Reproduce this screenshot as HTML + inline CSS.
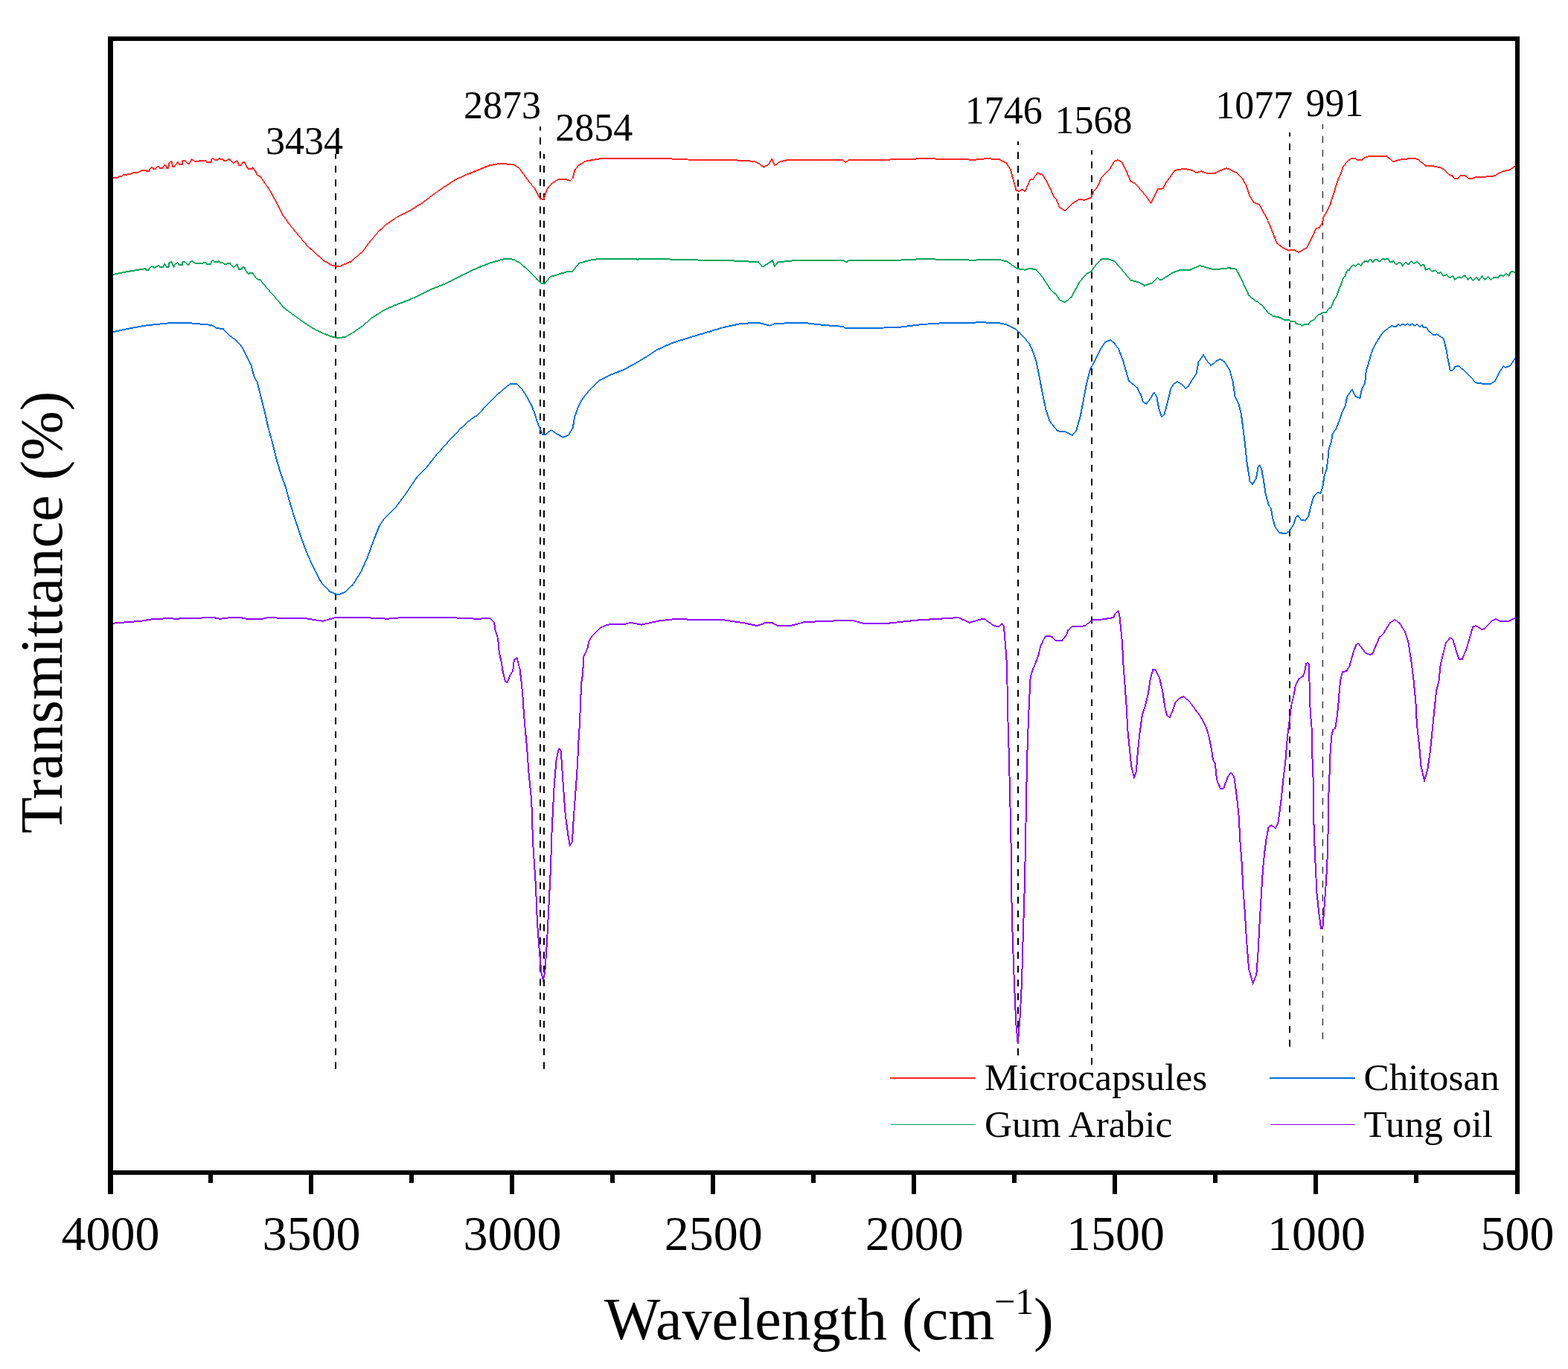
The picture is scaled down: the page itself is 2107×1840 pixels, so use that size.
<!DOCTYPE html><html><head><meta charset="utf-8"><title>FTIR spectra</title><style>html,body{margin:0;padding:0;background:#fff;}svg{display:block;}text{font-family:"Liberation Serif","Times New Roman",serif;fill:#000;}</style></head><body><svg width="2107" height="1840" viewBox="0 0 2107 1840"><rect x="0" y="0" width="2107" height="1840" fill="#fff"/><line x1="451.0" y1="1436.8" x2="451.0" y2="207.0" stroke="#000" stroke-width="2.0" stroke-dasharray="9.3 9.235"/><line x1="726.0" y1="1398.9" x2="726.0" y2="170.0" stroke="#000" stroke-width="2.0" stroke-dasharray="9.3 9.235"/><line x1="731.0" y1="1436.8" x2="731.0" y2="207.0" stroke="#000" stroke-width="2.0" stroke-dasharray="9.3 9.235"/><line x1="1368.0" y1="1418.4" x2="1368.0" y2="190.0" stroke="#000" stroke-width="2.0" stroke-dasharray="9.3 9.235"/><line x1="1467.0" y1="1431.0" x2="1467.0" y2="202.1" stroke="#000" stroke-width="2.0" stroke-dasharray="9.3 9.235"/><line x1="1733.0" y1="1406.8" x2="1733.0" y2="178.0" stroke="#000" stroke-width="2.0" stroke-dasharray="9.3 9.235"/><line x1="1777.5" y1="1396.8" x2="1777.5" y2="167.0" stroke="#000" stroke-width="1.0" stroke-dasharray="9.3 9.235"/><g fill="none" stroke="#ff2626" stroke-linecap="round" shape-rendering="crispEdges"><path stroke-width="1.4" d="M259.3,214.6L261.5,216.8M310.5,215.6L314.2,219.2M766.0,243.0L769.8,239.2M1431.1,283.0L1439.7,274.4M1469.4,257.2L1474.0,252.5M1480.3,238.4L1485.0,233.8M1662.5,232.8L1668.8,239.0M1959.3,239.7L1962.6,236.3"/><path stroke-width="1.5" d="M163.2,236.9L165.5,234.9M201.5,227.3L203.8,224.8L206.0,226.8M209.3,226.8L211.1,224.6M213.3,223.9L215.1,225.8M227.2,219.6L229.0,217.4M248.4,215.6L252.4,220.0M276.1,215.4L278.3,218.0M286.4,212.7L288.6,215.2M292.2,214.9L294.8,212.5L296.6,214.5M304.3,216.3L306.8,213.6M389.0,301.7L400.0,315.0L412.5,329.8L423.4,340.0L436.0,351.0M471.2,351.7L486.9,338.4M496.2,326.0L508.8,311.0L518.0,302.5M711.9,245.5L718.0,252.5M1485.0,233.8L1492.0,226.0M1525.6,247.0L1533.4,255.6M1821.3,212.7L1823.9,215.1M1864.0,210.2L1871.9,217.5M1940.3,227.4L1947.0,234.7M1951.4,236.3L1954.8,240.0"/><path stroke-width="1.6" d="M218.4,225.8L221.3,221.7M234.1,223.9L238.9,217.8M314.2,219.2L318.5,215.8M339.7,225.1L343.4,230.2M350.0,237.7L362.5,255.6M379.7,288.4L389.0,301.7M486.9,338.4L496.2,326.0M518.0,302.5L533.8,291.6M565.0,274.4L580.6,262.7L596.2,251.7M697.8,226.0L705.6,236.9L711.9,245.5M735.3,254.0L741.0,247.0L748.8,241.6M772.2,229.0L776.9,222.8M1020.6,220.5L1026.2,224.7M1041.1,222.3L1048.1,217.3M1132.5,215.3L1136.4,218.1L1140.3,215.3M1388.1,240.8L1394.4,232.2M1416.2,264.2L1419.4,268.1M1533.4,255.6L1539.7,263.4L1546.7,272.8M1567.8,243.9L1578.8,229.0M1715.6,326.6L1723.4,332.8M1804.5,224.8L1809.9,217.4L1815.2,213.4M1904.6,213.7L1915.7,222.6M1968.2,235.8L1973.8,239.7M2028.5,228.5L2035.7,223.5"/><path stroke-width="1.7" d="M157.3,238.8L158.8,237.8M238.9,217.8L241.1,221.1M254.2,220.0L257.5,214.5M284.5,213.8L286.4,212.7M323.7,222.4L326.6,217.8M345.3,235.0L350.0,237.7M549.4,283.8L565.0,274.4M596.2,251.7L611.9,241.6M690.0,221.0L697.8,226.0M776.9,222.8L786.2,216.9M1014.4,216.9L1020.6,220.5M1032.5,221.2L1037.2,213.8M1352.2,218.9L1357.7,227.5M1373.3,254.8L1377.5,257.2M1401.4,235.3L1406.9,244.7M1424.0,279.0L1431.1,283.0M1439.7,274.4L1450.6,267.7M1492.0,226.0L1497.5,216.6M1502.2,215.0L1507.7,218.1M1602.2,229.0L1607.8,232.5M1668.8,239.0L1675.0,250.0M1678.9,262.5L1684.4,271.9M1745.3,339.0L1756.2,332.8M1773.1,305.8L1777.1,299.1M1778.8,291.0L1783.1,284.3M1830.0,214.7L1835.0,211.4M2008.4,236.3L2014.0,233.0"/><path stroke-width="1.8" d="M174.3,234.3L179.2,232.0M185.1,231.7L191.5,228.9M196.2,228.9L196.8,230.2M200.3,230.2L201.5,227.3M221.3,221.7L223.1,222.5M266.6,216.8L268.5,215.8M274.0,216.3L276.1,215.4M299.5,213.9L300.6,216.3M306.8,213.6L310.5,215.6M328.4,218.0L333.5,227.3M338.6,227.3L339.7,225.1M362.5,255.6L371.9,272.8L379.7,288.4M436.0,351.0L446.9,356.9M455.6,358.4L471.2,351.7M533.8,291.6L549.4,283.8M611.9,241.6L627.5,234.5M718.0,252.5L726.0,267.3M1026.2,224.7L1032.5,221.2M1037.2,213.8L1041.1,222.3M1342.8,214.2L1352.2,218.9M1369.4,256.9L1373.3,254.8M1377.5,257.2L1384.2,241.6M1394.4,232.2L1401.4,235.3M1406.9,244.7L1416.2,264.2M1419.4,268.1L1424.0,279.0M1474.0,252.5L1480.3,238.4M1507.7,218.1L1513.1,229.0L1519.4,243.9L1525.6,247.0M1546.7,272.8L1551.4,263.4L1556.1,254.0M1563.1,253.3L1567.8,243.9M1632.8,232.8L1640.6,228.9M1648.4,226.1L1654.7,228.9L1662.5,232.8M1692.2,275.0L1701.6,292.2L1707.8,306.2M1723.4,332.8L1731.2,336.7M1737.5,335.6L1745.3,339.0M1756.2,332.8L1763.7,317.8L1768.4,307.1M1783.1,284.3L1787.1,276.3M1798.5,240.2L1801.9,233.5M1935.8,225.5L1940.3,227.4M2014.0,233.0L2020.7,229.9"/><path stroke-width="1.9" d="M211.1,224.6L213.3,223.9M223.1,222.5L224.2,226.0M229.0,217.4L230.5,216.8L232.3,223.9M245.4,216.3L248.4,215.6M283.5,218.0L284.5,213.8M318.5,215.8L321.1,222.2M343.4,230.2L345.3,235.0M627.5,234.5L643.0,228.3L658.8,222.0M730.6,267.8L735.3,254.0M759.7,240.8L766.0,243.0M769.8,239.2L772.2,229.0M1357.7,227.5L1361.6,241.6L1365.5,255.6L1369.4,256.9M1456.9,268.9L1466.2,265.8L1469.4,257.2M1497.5,216.6L1502.2,215.0M1607.8,232.5L1614.0,230.0L1620.3,232.5M1640.6,228.9L1648.4,226.1M1675.0,250.0L1678.9,262.5M1684.4,271.9L1692.2,275.0M1707.8,306.2L1715.6,326.6M1768.4,307.1L1773.1,305.8M1787.1,276.3L1789.8,266.9L1792.5,258.9L1795.8,248.2L1798.5,240.2M1801.9,233.5L1804.5,224.8M1835.0,211.4L1839.0,210.2M1871.9,217.5L1879.7,214.8M1924.7,222.9L1935.8,225.5M1947.0,234.7L1951.4,236.3M1978.2,239.7L1984.9,237.8"/><path stroke-width="2.0" d="M152.0,239.0L157.3,238.8M158.8,237.8L163.2,236.9M165.5,234.9L174.3,234.3M179.2,232.0L185.1,231.7M191.5,228.9L196.2,228.9M196.8,230.2L200.3,230.2M206.0,226.8L209.3,226.8M215.1,225.8L218.4,225.8M224.2,226.0L226.1,226.0L227.2,219.6M232.3,223.9L234.1,223.9M241.1,221.1L244.7,221.1L245.4,216.3M252.4,220.0L254.2,220.0M257.5,214.5L259.3,214.6M261.5,216.8L266.6,216.8M268.5,215.8L274.0,216.3M278.3,218.0L283.5,218.0M288.6,215.2L292.2,214.9M296.6,214.5L299.5,213.9M300.6,216.3L304.3,216.3M321.1,222.2L323.7,222.4M326.6,217.8L328.4,218.0M333.5,227.3L338.6,227.3M446.9,356.9L455.6,358.4M658.8,222.0L671.2,220.0L690.0,221.0M726.0,267.3L730.6,267.8M748.8,241.6L759.7,240.8M786.2,216.9L800.3,214.2L808.0,213.0L900.3,213.4L923.8,214.5L948.8,215.0L991.0,215.5L1014.4,216.9M1048.1,217.3L1057.5,215.3L1132.5,215.3M1140.3,215.3L1218.4,214.2L1238.8,213.1L1310.0,214.7L1325.6,213.1L1342.8,214.2M1384.2,241.6L1388.1,240.8M1450.6,267.7L1456.9,268.9M1556.1,254.0L1563.1,253.3M1578.8,229.0L1591.2,226.7L1602.2,229.0M1620.3,232.5L1632.8,232.8M1731.2,336.7L1737.5,335.6M1777.1,299.1L1778.8,291.0M1815.2,213.4L1821.3,212.7M1823.9,215.1L1830.0,214.7M1839.0,210.2L1864.0,210.2M1879.7,214.8L1896.7,212.9L1904.6,213.7M1915.7,222.6L1924.7,222.9M1954.8,240.0L1959.3,239.7M1962.6,236.3L1968.2,235.8M1973.8,239.7L1978.2,239.7M1984.9,237.8L2001.7,237.4L2008.4,236.3M2020.7,229.9L2028.5,228.5"/></g><g fill="none" stroke="#00a55a" stroke-linecap="round" shape-rendering="crispEdges"><path stroke-width="1.4" d="M248.0,351.7L252.4,355.9M304.6,355.0L306.1,353.5M856.6,349.5L858.0,348.1M1547.5,380.6L1555.3,373.1M1732.3,430.1L1734.3,432.0M1765.0,430.1L1771.9,423.0M1804.9,374.0L1807.8,371.1M1821.4,358.1L1824.9,354.5M1850.2,348.9L1852.4,351.1M1854.3,350.8L1857.5,347.7M1889.2,352.5L1891.6,355.0M1896.5,350.8L1900.0,354.2M1972.7,375.9L1976.0,372.5M1979.3,377.0L1983.8,372.5"/><path stroke-width="1.5" d="M199.4,362.8L203.4,357.9M213.3,356.8L215.1,358.9M258.6,350.8L260.8,353.2M286.4,349.9L288.2,352.1M299.9,353.5L301.7,355.0M308.7,353.7L313.8,359.2M330.6,364.5L333.5,367.6M341.9,370.6L345.0,374.4M350.0,376.7L362.5,391.6L375.0,405.6M486.9,438.4L499.4,427.5M699.4,354.0L711.9,365.0L721.2,375.2L727.5,380.6M769.0,364.7L778.4,353.8M855.0,348.1L856.6,349.5M1019.0,352.2L1023.8,357.7M1392.8,362.7L1400.6,372.0M1411.6,389.2L1419.4,396.2M1450.6,379.0L1460.0,368.0M1472.5,356.4L1479.5,348.6M1497.5,351.0L1508.4,363.4L1519.4,376.7M1678.1,396.9L1687.5,404.7M1690.0,405.6L1696.8,411.4M1746.6,435.6L1749.4,438.0M1830.7,354.0L1834.1,351.1M1870.7,352.2L1872.4,350.6M1877.0,355.0L1879.9,352.5M1884.8,357.2L1889.2,352.5M1904.0,351.6L1909.0,356.9M1920.7,360.8L1924.1,364.7M1928.6,363.2L1932.5,367.5M1944.2,369.2L1948.1,373.6M1995.0,375.9L1999.4,372.0L2003.9,375.9L2007.3,373.0M2012.8,373.0L2016.2,370.0M2020.7,370.8L2024.0,367.7L2027.4,370.8"/><path stroke-width="1.6" d="M195.0,361.2L197.2,362.8M221.0,354.6L223.1,357.5M234.8,355.7L238.5,352.8L240.7,355.9M253.5,355.9L256.4,351.7M276.1,352.3L278.3,355.0M293.3,352.1L294.4,350.6M313.8,359.2L318.5,355.4M324.4,361.8L326.6,358.6M339.4,367.0L341.9,370.6M375.0,405.6L381.2,413.4L393.8,422.8L407.8,433.0M474.4,447.0L486.9,438.4M732.2,381.0L739.4,372.0M1041.1,358.0L1045.0,352.5M1353.8,351.7L1367.0,361.1M1431.1,406.4L1439.7,399.4M1466.2,365.0L1472.5,356.4M1555.3,373.1L1560.0,376.7M1696.8,411.4L1703.6,419.9L1710.5,424.7M1758.2,435.9L1761.0,432.0M1815.6,358.4L1818.8,356.0L1821.4,358.1M1826.3,355.0L1829.0,357.2M1838.5,351.8L1840.9,348.6M1861.4,349.1L1863.4,347.6M1872.4,350.6L1875.5,355.0M1893.6,354.7L1896.5,350.8M1935.8,366.0L1939.2,370.8M1963.7,373.6L1968.2,370.0L1972.7,375.9M1976.0,372.5L1979.3,377.0M1983.8,372.5L1987.2,377.0L1991.6,371.4L1995.0,375.9"/><path stroke-width="1.7" d="M205.2,358.6L207.4,360.1L209.6,358.6M223.1,357.5L224.2,359.2M227.5,353.5L230.5,351.7M274.7,353.2L276.1,352.3M294.4,350.6L295.9,353.2M326.6,358.6L328.8,360.1M407.8,433.0L423.4,443.0M463.4,453.3L474.4,447.0M499.4,427.5L515.0,417.3M690.0,348.6L699.4,354.0M1026.2,358.0L1038.0,350.2M1400.6,372.0L1411.6,389.2M1419.4,396.2L1424.0,403.3M1560.0,376.7L1575.6,366.6M1720.7,427.0L1725.5,430.0M1739.8,432.2L1741.8,435.4M1782.1,419.9L1785.5,414.9L1789.0,412.7M1792.3,403.9L1796.4,397.7M1808.8,366.7L1810.7,363.3M1845.6,351.8L1847.5,348.9M1859.5,347.8L1861.4,349.1M1882.4,353.5L1884.8,357.2M1900.0,354.2L1904.0,351.6M1948.1,373.6L1952.6,370.8M1954.8,375.9L1960.4,372.2M2033.0,364.7L2035.7,366.2"/><path stroke-width="1.8" d="M209.6,358.6L213.3,356.8M219.1,358.9L221.0,354.6M233.4,358.9L234.8,355.7M345.0,374.4L350.0,376.7M423.4,443.0L437.5,449.4M515.0,417.3L530.6,410.3M549.4,403.3L565.0,396.2L580.6,388.4M596.2,382.2L611.9,374.4L627.5,366.6L643.0,359.5M1132.5,349.7L1137.2,352.2L1141.9,349.7M1424.0,403.3L1431.1,406.4M1439.7,399.4L1450.6,379.0M1460.0,368.0L1466.2,365.0M1528.8,379.0L1538.1,383.8M1599.0,362.7L1612.5,357.0M1661.0,361.7L1668.8,376.6L1678.1,396.9M1749.4,438.0L1753.5,435.9M1761.0,432.0L1765.0,430.1M1771.9,423.0L1778.7,419.9M1799.2,388.9L1801.5,384.2M1813.2,363.0L1815.6,358.4M1829.0,357.2L1830.7,354.0M1842.4,348.9L1844.1,352.1M1865.3,347.7L1867.5,352.1M1932.5,367.5L1935.8,366.0M1952.6,370.8L1954.8,375.9M1960.4,372.2L1963.7,373.6M2027.4,370.8L2030.1,365.3"/><path stroke-width="1.9" d="M203.4,357.9L205.2,358.6M230.5,351.7L233.4,358.9M245.4,352.4L248.0,351.7M256.4,351.7L258.6,350.8M260.8,353.2L263.7,353.9M283.1,355.0L284.5,350.6L286.4,349.9M318.5,355.4L321.1,361.8M328.8,360.1L330.6,364.5M437.5,449.4L448.4,453.3M530.6,410.3L549.4,403.3M580.6,388.4L596.2,382.2M643.0,359.5L658.8,353.3L677.5,348.1M739.4,372.0L750.3,368.9L761.2,365.3M778.4,353.8L792.5,349.7M1038.0,350.2L1041.1,358.0M1343.6,349.0L1353.8,351.7M1377.2,362.7L1383.4,360.6M1488.1,347.8L1497.5,351.0M1519.4,376.7L1528.8,379.0M1538.1,383.8L1547.5,380.6M1575.6,366.6L1585.0,363.1M1612.5,357.0L1631.2,362.5M1687.5,404.7L1690.0,405.6M1789.0,412.7L1792.3,403.9M1796.4,397.7L1799.2,388.9M1801.5,384.2L1803.4,377.9L1804.9,374.0M1824.9,354.5L1826.3,355.0M1879.9,352.5L1882.4,353.5M1913.5,356.1L1915.7,362.5L1920.7,360.8M1924.1,364.7L1928.6,363.2M1939.2,370.8L1944.2,369.2"/><path stroke-width="2.0" d="M151.6,368.9L173.4,364.7L195.0,361.2M197.2,362.8L199.4,362.8M215.1,358.9L219.1,358.9M224.2,359.2L226.4,359.2L227.5,353.5M240.7,355.9L244.7,355.9L245.4,352.4M252.4,355.9L253.5,355.9M263.7,353.9L265.9,353.5L270.3,353.9L274.7,353.2M278.3,355.0L283.1,355.0M288.2,352.1L293.3,352.1M295.9,353.2L299.9,353.5M301.7,355.0L304.6,355.0M306.1,353.5L308.7,353.7M321.1,361.8L324.4,361.8M333.5,367.6L339.4,367.0M448.4,453.3L452.5,454.0L463.4,453.3M677.5,348.1L690.0,348.6M727.5,380.6L732.2,381.0M761.2,365.3L769.0,364.7M792.5,349.7L803.4,348.1L855.0,348.1M858.0,348.1L909.7,348.6L944.0,349.7L986.2,350.5L1019.0,352.2M1023.8,357.7L1026.2,358.0M1045.0,352.5L1066.9,350.2L1132.5,349.7M1141.9,349.7L1207.5,349.7L1238.8,348.1L1310.0,349.7L1324.0,348.6L1343.6,349.0M1367.0,361.1L1377.2,362.7M1383.4,360.6L1392.8,362.7M1479.5,348.6L1488.1,347.8M1585.0,363.1L1599.0,362.7M1631.2,362.5L1651.6,360.2L1661.0,361.7M1710.5,424.7L1720.7,427.0M1725.5,430.0L1732.3,430.1M1734.3,432.0L1739.8,432.2M1741.8,435.4L1746.6,435.6M1753.5,435.9L1758.2,435.9M1778.7,419.9L1782.1,419.9M1807.8,371.1L1808.8,366.7M1810.7,363.3L1813.2,363.0M1834.1,351.1L1838.5,351.8M1840.9,348.6L1842.4,348.9M1844.1,352.1L1845.6,351.8M1847.5,348.9L1850.2,348.9M1852.4,351.1L1854.3,350.8M1857.5,347.7L1859.5,347.8M1863.4,347.6L1865.3,347.7M1867.5,352.1L1870.7,352.2M1875.5,355.0L1877.0,355.0M1891.6,355.0L1893.6,354.7M1909.0,356.9L1913.5,356.1M2007.3,373.0L2012.8,373.0M2016.2,370.0L2020.7,370.8M2030.1,365.3L2033.0,364.7"/></g><g fill="none" stroke="#006ee0" stroke-linecap="round" shape-rendering="crispEdges"><path stroke-width="1.4" d="M300.0,442.3L308.9,451.2M516.5,696.8L532.1,681.2M604.6,591.0L619.2,575.7M651.4,547.2L663.1,535.5M794.7,521.6L804.9,511.4M1967.1,497.6L1976.7,507.2"/><path stroke-width="1.5" d="M317.9,458.0L325.7,466.9M431.7,782.7L442.9,795.0M463.0,796.1L474.1,786.0M558.9,643.2L574.5,626.5M587.9,609.7L604.6,591.0M619.2,575.7L633.9,562.5M642.6,557.4L651.4,547.2M663.1,535.5L674.8,524.5M693.8,515.8L701.1,522.3M785.9,531.8L794.7,521.6M1364.7,442.3L1370.0,447.0L1377.3,455.1L1383.2,461.7M1416.8,574.2L1421.2,579.4M1440.9,585.2L1446.0,579.4M1523.5,517.2L1527.9,520.9M1540.3,542.8L1544.7,537.7M1560.8,560.4L1564.4,557.4M1587.8,516.5L1593.0,522.0M1621.5,484.3L1627.3,491.3L1634.6,485.1M1679.6,647.1L1682.9,651.0M1765.0,668.3L1770.5,661.6M1857.3,448.0L1864.5,441.7M1878.6,435.5L1881.2,437.9M1901.5,438.1L1903.9,435.5L1908.0,439.1M1976.7,507.2L1982.7,514.3"/><path stroke-width="1.6" d="M308.9,451.2L317.9,458.0M532.1,681.2L545.5,663.3M574.5,626.5L587.9,609.7M674.8,524.5L685.0,516.5M733.3,583.7L740.6,577.9L747.9,583.0M1410.2,565.5L1416.8,574.2M1492.1,456.8L1497.2,460.9L1503.0,469.0M1516.9,512.1L1523.5,517.2M1550.6,527.5L1554.2,532.6M1576.9,516.5L1582.0,512.8M1593.0,522.0L1596.6,519.4M1610.5,486.5L1617.1,477.0M1690.7,627.0L1692.4,624.8M1713.6,708.5L1719.2,715.8M1741.5,695.1L1744.3,692.9L1748.2,698.5M1753.8,699.6L1758.3,694.0M1790.6,583.0L1795.1,576.8M1881.2,437.9L1884.2,435.8M1908.0,439.1L1911.0,436.7M1917.0,440.5L1920.6,445.7L1926.6,450.4M1959.4,491.6L1967.1,497.6M2003.0,516.1L2008.9,511.9M2014.9,500.0L2020.3,492.2M2029.2,491.6L2035.8,482.0"/><path stroke-width="1.7" d="M284.4,436.9L290.6,440.8M341.3,506.0L345.8,513.8M474.1,786.0L485.3,768.2M509.8,706.8L516.5,696.8M545.5,663.3L558.9,643.2M633.9,562.5L642.6,557.4M701.1,522.3L708.4,534.0M764.0,584.5L769.8,575.0M780.0,540.6L785.9,531.8M853.2,488.7L867.8,480.0L882.4,470.4M1132.5,438.8L1135.6,440.8M1465.0,496.0L1472.3,482.9M1478.2,470.4L1484.8,460.2M1535.9,539.9L1540.3,542.8M1544.7,537.7L1550.6,527.5M1573.2,522.3L1576.9,516.5M1582.0,512.8L1587.8,516.5M1596.6,519.4L1602.5,509.9L1607.6,501.9M1617.1,477.0L1621.5,484.3M1639.7,482.6L1644.8,485.8L1652.2,496.8M1682.9,651.0L1688.0,643.2M1704.7,678.4L1708.0,684.0M1727.0,717.5L1732.6,714.1L1738.2,705.2M1810.1,533.4L1816.7,523.6M1848.9,461.2L1857.3,448.0M1864.5,441.7L1870.4,437.9M1876.4,438.9L1878.6,435.5M1888.3,437.0L1891.3,435.3L1894.3,437.3L1897.3,435.3L1901.5,438.1M1930.7,449.2L1936.1,452.8L1939.7,455.2M1952.2,497.6L1955.2,493.0M2020.3,492.2L2023.2,494.0"/><path stroke-width="1.8" d="M325.7,466.9L331.2,478.0L338.0,492.5M411.6,741.4L420.5,761.5L431.7,782.7M485.3,768.2L494.2,748.0M708.4,534.0L714.3,545.0M725.2,575.0L728.9,583.7M747.9,583.0L756.7,587.8L764.0,584.5M775.7,550.1L780.0,540.6M804.9,511.4L818.0,504.8M838.5,496.8L853.2,488.7M882.4,470.4L901.9,461.6M1034.8,437.7L1040.3,435.3M1352.2,436.0L1364.7,442.3M1383.2,461.7L1388.3,473.4M1431.4,580.1L1440.9,585.2M1472.3,482.9L1478.2,470.4M1484.8,460.2L1492.1,456.8M1527.9,520.9L1533.0,530.4M1634.6,485.1L1639.7,482.6M1659.5,532.6L1664.6,542.8M1692.4,624.8L1695.2,630.4M1798.4,568.5L1800.0,565.0M1803.6,553.7L1807.8,545.4M1816.7,523.6L1821.5,532.8M1829.8,523.9L1834.0,515.5M1843.0,473.7L1848.9,461.2M1870.4,437.9L1872.8,439.1M1911.0,436.7L1912.8,440.0M2008.9,511.9L2014.9,500.0"/><path stroke-width="1.9" d="M338.0,492.5L341.3,506.0M345.8,513.8L350.2,531.6L355.8,553.9M360.3,574.0L367.0,598.6L372.5,620.9L378.1,638.8L383.7,654.4L389.3,674.5L396.0,696.8L402.7,716.9L411.6,741.4M442.9,795.0L454.0,799.5L463.0,796.1M494.2,748.0L503.1,723.6L509.8,706.8M714.3,545.0L718.6,556.0L721.6,566.2L725.2,575.0M772.0,561.0L775.7,550.1M818.0,504.8L838.5,496.8M901.9,461.6L925.3,454.0L948.8,447.0L972.2,440.0M1019.0,433.8L1034.8,437.7M1388.3,473.4L1392.7,486.5M1405.8,552.3L1410.2,565.5M1446.0,579.4L1451.9,558.9M1459.9,516.5L1465.0,496.0M1503.0,469.0L1508.9,484.3L1514.0,501.9L1516.9,512.1M1533.0,530.4L1535.9,539.9M1557.1,548.7L1560.8,560.4M1564.4,557.4L1568.8,541.3L1573.2,522.3M1652.2,496.8L1656.5,512.1M1664.6,542.8L1667.9,556.7M1700.8,665.0L1704.7,678.4M1710.3,697.4L1713.6,708.5M1738.2,705.2L1741.5,695.1M1761.0,681.7L1765.0,668.3M1770.5,661.6L1774.4,662.8L1777.2,655.0M1779.5,640.4L1782.8,630.4M1785.6,604.2L1789.0,593.6M1795.1,576.8L1798.4,568.5M1800.0,565.0L1803.6,553.7M1821.5,532.8L1827.5,535.2M1835.8,498.8L1839.4,486.9L1843.0,473.7M1884.2,435.8L1888.3,437.0M1926.6,450.4L1930.7,449.2M1939.7,455.2L1943.3,468.9M1955.2,493.0L1959.4,491.6M2023.2,494.0L2029.2,491.6"/><path stroke-width="2.0" d="M151.6,446.2L173.4,441.6L196.9,437.3L228.0,434.2L257.8,434.5L284.4,436.9M290.6,440.8L300.0,442.3M355.8,553.9L360.3,574.0M685.0,516.5L693.8,515.8M728.9,583.7L733.3,583.7M769.8,575.0L772.0,561.0M972.2,440.0L995.6,435.0L1019.0,433.8M1040.3,435.3L1066.9,433.8L1085.6,434.5L1106.0,436.9L1132.5,438.8M1135.6,440.8L1160.6,441.2L1207.5,440.0L1238.8,436.0L1270.0,434.0L1320.0,433.4L1339.7,433.8L1352.2,436.0M1392.7,486.5L1396.3,504.8L1400.7,528.2L1405.8,552.3M1421.2,579.4L1431.4,580.1M1451.9,558.9L1456.3,535.5L1459.9,516.5M1554.2,532.6L1557.1,548.7M1607.6,501.9L1610.5,486.5M1656.5,512.1L1659.5,532.6M1667.9,556.7L1670.6,578.0L1672.9,595.8L1675.1,618.1L1676.8,629.3L1679.6,647.1M1688.0,643.2L1690.7,627.0M1695.2,630.4L1698.0,646.0L1700.8,665.0M1708.0,684.0L1710.3,697.4M1719.2,715.8L1727.0,717.5M1748.2,698.5L1753.8,699.6M1758.3,694.0L1761.0,681.7M1777.2,655.0L1779.5,640.4M1782.8,630.4L1784.5,615.9L1785.6,604.2M1789.0,593.6L1790.6,583.0M1807.8,545.4L1810.1,533.4M1827.5,535.2L1829.8,523.9M1834.0,515.5L1835.8,498.8M1872.8,439.1L1876.4,438.9M1912.8,440.0L1917.0,440.5M1943.3,468.9L1946.2,485.7L1948.6,497.6L1952.2,497.6M1982.7,514.3L1991.0,515.5L2003.0,516.1"/></g><g fill="none" stroke="#8c00ff" stroke-linecap="round" shape-rendering="crispEdges"><path stroke-width="1.4" d="M658.4,831.2L664.0,836.7M795.7,854.6L801.8,848.5M1342.3,842.1L1346.5,837.9M1413.8,856.0L1419.3,861.3M1579.1,944.8L1585.6,938.3M1853.8,856.3L1859.6,850.5"/><path stroke-width="1.5" d="M240.2,831.8L241.4,830.8M685.8,906.5L689.1,902.6M801.8,848.5L807.4,843.4M1435.0,847.3L1440.5,842.5M1498.6,825.0L1502.5,820.6M1590.7,936.1L1598.7,943.4M1653.8,1038.4L1658.2,1043.5M1943.0,863.5L1948.8,857.0M1995.2,844.7L2003.9,835.2"/><path stroke-width="1.6" d="M270.6,830.8L271.8,829.9M288.9,829.9L290.1,830.8M690.8,887.0L694.7,884.2M1323.3,832.3L1328.9,836.2L1335.6,841.2M1427.1,861.1L1432.7,854.0M1458.4,840.6L1465.1,835.6M1568.2,961.5L1571.8,964.4M1598.7,943.4L1606.0,953.5L1613.2,963.0M1708.6,1109.2L1714.0,1113.1M1754.9,892.2L1757.2,890.5L1759.0,892.8M1822.2,867.0L1825.2,864.7L1829.3,870.0L1835.1,877.6M1867.6,837.4L1874.1,832.8L1880.6,837.4M1948.8,857.0L1952.4,859.9M1983.6,841.0L1990.9,846.1"/><path stroke-width="1.7" d="M223.1,831.4L224.3,830.6M232.2,830.8L234.1,832.1M751.6,1005.8L753.8,1009.7M791.2,862.4L795.7,854.6M1346.5,837.9L1349.0,842.3M1401.5,861.3L1404.8,855.5M1465.1,835.6L1469.6,832.8M1649.5,1045.0L1653.8,1038.4M1704.7,1111.6L1708.6,1109.2M1791.2,980.7L1794.1,978.9M1809.3,902.2L1813.4,895.1M1859.6,850.5L1867.6,837.4M1880.6,837.4L1887.9,849.0M2003.9,835.2L2009.7,831.9"/><path stroke-width="1.8" d="M749.9,1009.7L751.6,1005.8M765.8,1136.7L768.9,1131.0M784.5,882.5L789.5,871.3M807.4,843.4L815.2,840.1M1037.1,836.8L1044.4,840.5M1288.1,830.0L1302.7,836.8M1388.1,899.2L1391.4,891.4M1398.1,869.1L1401.5,861.3M1496.3,830.0L1498.6,825.0M1552.2,899.8L1558.0,910.7M1571.8,964.4L1575.5,955.7M1585.6,938.3L1590.7,936.1M1613.2,963.0L1620.5,976.7M1629.9,1020.3L1632.8,1026.1M1714.0,1113.1L1717.2,1106.9M1740.8,920.9L1745.5,912.1L1750.8,909.2M1835.1,877.6L1840.4,879.9M1849.4,866.4L1853.8,856.3M1964.8,886.0L1970.6,872.2M2009.7,831.9L2015.5,834.8M2027.1,834.8L2035.8,830.9"/><path stroke-width="1.9" d="M352.8,831.8L359.6,830.1M371.1,830.1L373.0,830.8M433.9,834.8L442.4,832.4L450.9,830.0M665.7,847.9L669.0,858.0M675.7,902.6L679.1,916.0L681.9,917.1L685.8,906.5M694.7,884.2L698.6,899.8M727.5,1307.6L729.7,1316.5L732.2,1307.6M815.2,840.1L820.8,838.8M840.0,838.8L847.0,836.8M1017.6,841.0L1027.4,837.5M1063.9,840.5L1081.0,836.1M1144.3,833.6L1159.0,837.5M1302.7,836.8L1319.8,832.0M1384.7,909.3L1388.1,899.2M1391.4,891.4L1394.8,882.5L1398.1,869.1M1409.3,854.6L1413.8,856.0M1432.7,854.0L1435.0,847.3M1452.8,842.3L1458.4,840.6M1502.5,820.6L1504.2,825.6M1520.3,1030.5L1523.9,1045.0L1526.8,1037.7M1534.8,961.5L1539.2,947.7L1542.8,933.2M1545.7,912.9L1549.3,899.8M1565.3,950.6L1568.2,961.5M1575.5,955.7L1579.1,944.8M1620.5,976.7L1624.1,988.4M1635.0,1047.9L1640.0,1060.2M1644.4,1059.5L1649.5,1045.0M1678.1,1302.2L1683.6,1321.7L1688.3,1310.0M1734.9,949.0L1739.0,932.6M1750.8,909.2L1753.1,903.4M1801.7,911.5L1804.1,902.8M1813.4,895.1L1815.8,887.0L1818.7,876.4L1822.2,867.0M1840.4,879.9L1844.3,878.8L1849.4,866.4M1887.9,849.0L1892.2,862.1M1909.6,1030.4L1914.0,1049.2L1918.3,1034.7M1930.0,928.8L1933.6,914.3M1935.8,892.5L1940.1,875.1L1943.0,863.5M1952.4,859.9L1956.1,872.2L1960.4,886.0M1970.6,872.2L1975.6,854.8L1979.3,842.5L1983.6,841.0M1990.9,846.1L1995.2,844.7"/><path stroke-width="2.0" d="M152.4,837.9L157.3,836.9L164.6,836.7L178.0,835.7L190.2,834.7L195.1,833.9L200.6,832.9L208.5,831.8L223.1,831.4M224.3,830.6L232.2,830.8M234.1,832.1L240.2,831.8M241.4,830.8L270.6,830.8M271.8,829.9L288.9,829.9M290.1,830.8L296.2,831.8L303.5,830.8L311.4,829.9L324.2,830.2L331.5,831.8L352.8,831.8M359.6,830.1L371.1,830.1M373.0,830.8L400.0,830.8L410.7,831.2L425.3,833.6L433.9,834.8M450.9,830.0L488.7,830.0L520.4,831.7L535.0,830.5L554.5,829.7L595.9,829.7L640.0,831.7L658.4,831.2M664.0,836.7L665.7,847.9M669.0,858.0L670.7,875.8L673.5,889.2L675.7,902.6M689.1,902.6L690.8,887.0M698.6,899.8L700.8,918.2L702.5,937.2L703.6,953.9L705.3,976.2L707.5,998.6L709.2,1020.0L710.4,1038.0L714.2,1075.9L716.1,1132.9L719.9,1189.9L721.8,1237.3L724.6,1275.3L727.5,1307.6M732.2,1307.6L735.0,1265.8L737.9,1208.8L739.8,1170.9L741.7,1113.9L744.6,1057.0L747.4,1022.8L749.9,1009.7M753.8,1009.7L756.9,1057.0L759.7,1094.9L763.5,1123.4L765.8,1136.7M768.9,1131.0L771.1,1094.9L774.0,1057.0L775.9,1028.5L777.3,998.6L779.0,970.7L780.1,942.8L781.2,918.2L782.9,907.0L784.5,882.5M789.5,871.3L791.2,862.4M820.8,838.8L840.0,838.8M847.0,836.8L861.7,839.7L886.0,834.4L908.0,831.9L927.5,832.7L971.3,833.1L1000.6,837.5L1017.6,841.0M1027.4,837.5L1037.1,836.8M1044.4,840.5L1063.9,840.5M1081.0,836.1L1122.4,834.4L1144.3,833.6M1159.0,837.5L1195.5,837.5L1232.0,833.6L1278.3,830.7L1288.1,830.0M1319.8,832.0L1323.3,832.3M1335.6,841.2L1342.3,842.1M1349.0,842.3L1350.1,855.7L1351.8,875.8L1352.9,892.5L1353.5,920.4L1354.0,953.9L1355.2,993.0L1357.0,1061.7L1358.6,1137.0L1359.7,1228.6L1362.0,1297.0L1363.8,1342.9L1365.4,1377.0L1367.7,1402.5L1370.7,1365.7L1373.0,1320.0L1374.6,1262.9L1376.4,1205.7L1378.0,1137.0L1379.1,1068.6L1380.7,1000.0L1382.5,953.9L1383.6,931.6L1384.7,909.3M1404.8,855.5L1409.3,854.6M1419.3,861.3L1427.1,861.1M1440.5,842.5L1452.8,842.3M1469.6,832.8L1480.7,832.5L1489.6,831.2L1496.3,830.0M1504.2,825.6L1505.8,841.8L1508.0,863.5L1509.4,892.6L1511.6,921.6L1513.8,950.6L1515.2,979.6L1518.1,1008.7L1520.3,1030.5M1526.8,1037.7L1529.0,1008.7L1531.2,986.9L1534.8,961.5M1542.8,933.2L1545.7,912.9M1549.3,899.8L1552.2,899.8M1558.0,910.7L1562.4,930.3L1565.3,950.6M1624.1,988.4L1627.7,1005.8L1629.9,1020.3M1632.8,1026.1L1635.0,1047.9M1640.0,1060.2L1644.4,1059.5M1658.2,1043.5L1660.4,1059.5L1662.5,1075.6L1664.8,1099.0L1666.4,1130.3L1668.8,1161.6L1670.3,1192.8L1672.7,1224.0L1675.0,1263.0L1678.1,1302.2M1688.3,1310.0L1690.6,1278.8L1692.2,1247.5L1694.5,1208.4L1696.9,1169.4L1699.2,1145.9L1701.6,1127.2L1704.7,1111.6M1717.2,1106.9L1719.5,1091.2L1721.9,1072.5L1725.0,1041.6L1727.3,1024.0L1729.1,1000.6L1730.8,983.0L1733.2,965.4L1734.9,949.0M1739.0,932.6L1740.8,920.9M1753.1,903.4L1754.9,892.2M1759.0,892.8L1759.5,916.2L1760.7,957.2L1762.5,977.2L1763.1,1010.0L1764.6,1047.5L1765.6,1114.7L1767.2,1153.8L1769.5,1200.6L1771.9,1224.0L1775.0,1247.5L1777.3,1247.5L1779.7,1216.2L1782.0,1185.0L1783.6,1153.8L1784.7,1114.7L1785.6,1060.0L1786.5,1041.6L1787.7,1007.6L1789.4,988.9L1791.2,980.7M1794.1,978.9L1795.9,969.0L1798.2,949.0L1800.0,925.6L1801.7,911.5M1804.1,902.8L1809.3,902.2M1892.2,862.1L1895.9,885.3L1899.5,914.3L1902.4,943.3L1903.8,972.3L1906.7,998.4L1909.6,1030.4M1918.3,1034.7L1922.0,1008.6L1925.6,972.3L1927.8,950.6L1930.0,928.8M1933.6,914.3L1935.8,892.5M1960.4,886.0L1964.8,886.0M2015.5,834.8L2027.1,834.8"/></g><rect x="145" y="49" width="1897" height="6" fill="#000"/><rect x="145" y="1573" width="1897" height="6" fill="#000"/><rect x="145" y="49" width="7" height="1556" fill="#000"/><rect x="2036" y="49" width="6" height="1556" fill="#000"/><rect x="415" y="1579" width="6" height="26" fill="#000"/><rect x="685" y="1579" width="6" height="26" fill="#000"/><rect x="955" y="1579" width="6" height="26" fill="#000"/><rect x="1225" y="1579" width="6" height="26" fill="#000"/><rect x="1495" y="1579" width="6" height="26" fill="#000"/><rect x="1765" y="1579" width="6" height="26" fill="#000"/><rect x="280" y="1579" width="6" height="11" fill="#000"/><rect x="550" y="1579" width="6" height="11" fill="#000"/><rect x="820" y="1579" width="6" height="11" fill="#000"/><rect x="1090" y="1579" width="6" height="11" fill="#000"/><rect x="1360" y="1579" width="6" height="11" fill="#000"/><rect x="1630" y="1579" width="6" height="11" fill="#000"/><rect x="1900" y="1579" width="6" height="11" fill="#000"/><text x="148.5" y="1680" font-size="66" text-anchor="middle">4000</text><text x="418.6" y="1680" font-size="66" text-anchor="middle">3500</text><text x="688.6" y="1680" font-size="66" text-anchor="middle">3000</text><text x="958.7" y="1680" font-size="66" text-anchor="middle">2500</text><text x="1228.8" y="1680" font-size="66" text-anchor="middle">2000</text><text x="1498.9" y="1680" font-size="66" text-anchor="middle">1500</text><text x="1768.9" y="1680" font-size="66" text-anchor="middle">1000</text><text x="2039.0" y="1680" font-size="66" text-anchor="middle">500</text><text x="812" y="1800" font-size="80">Wavelength (cm</text><text x="1336" y="1765.5" font-size="50">&#8722;1</text><text x="1389" y="1800" font-size="80">)</text><text transform="translate(83,823) rotate(-90)" font-size="80" text-anchor="middle">Transmittance (%)</text><text x="357.0" y="207.2" font-size="52">3434</text><text x="622.9" y="158.8" font-size="52">2873</text><text x="746.2" y="188.7" font-size="52">2854</text><text x="1296.8" y="165.5" font-size="52">1746</text><text x="1417.4" y="179.1" font-size="52">1568</text><text x="1633.2" y="158.7" font-size="52">1077</text><text x="1754.4" y="156.0" font-size="52">991</text><rect x="1196" y="1448" width="115" height="2" fill="#ff2626"/><rect x="1197" y="1511" width="114" height="1" fill="#00a55a"/><rect x="1706" y="1448" width="115" height="2" fill="#006ee0"/><rect x="1707" y="1511" width="114" height="1" fill="#8c00ff"/><text x="1323" y="1465.3" font-size="51.3">Microcapsules</text><text x="1323" y="1528.1" font-size="51.3">Gum Arabic</text><text x="1832.5" y="1465.3" font-size="51.3">Chitosan</text><text x="1832.5" y="1528.1" font-size="51.3">Tung oil</text></svg></body></html>
